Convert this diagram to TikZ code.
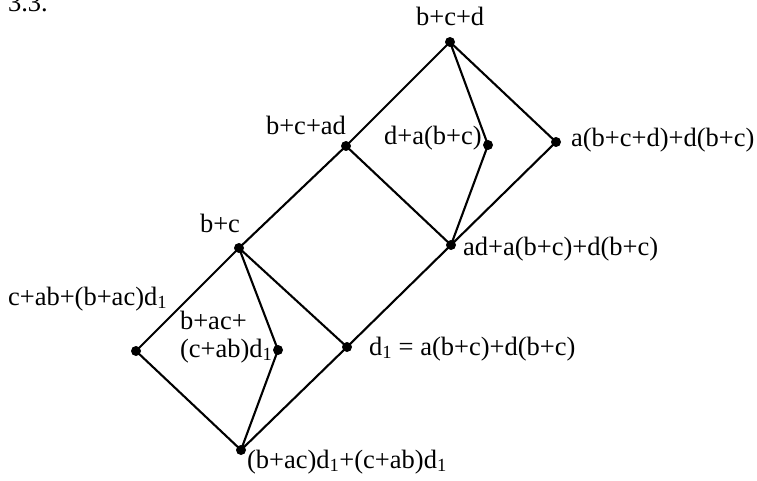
\documentclass[tikz,border=0pt]{standalone}
\usepackage{fontspec}
\setmainfont{Liberation Serif}
\begin{document}
\begin{tikzpicture}[line join = round, line cap=round,x=1pt,y=-1pt,line width=2.1pt,
	font=\fontsize{26.5}{27.7}\selectfont]
				\useasboundingbox (0,0) rectangle (757,481);
				\path
				(450,42) coordinate (T)
				(346,146) coordinate (BCAD)
				(488,145) coordinate (DA)
				(556,142) coordinate (R)
				(451,245) coordinate (M)
				(239,248) coordinate (BC)
				(136,351) coordinate (L)
				(278,350) coordinate (LA)
				(347,347) coordinate (D)
				(241,450) coordinate (B)
				;
				\draw
				(T)--(BCAD)--(M)--(R)--(T) (T)--(DA)--(M)
				(BCAD)--(BC)--(L)--(B)--(D)--(M)
				(BC)--(D) (BC)--(LA)--(B)
				;
				\node[anchor=base west,inner sep=0] (num) at (7,12) {3.3.};
				\foreach \x/\p/\t in {T/{-35,-16}/{b+c+d},BCAD/{-81,-11}/{b+c+ad},
					DA/{-105,0}/{d+a(b+c)},R/{14,5}/{a(b+c+d)+d(b+c)},
					M/{11,10}/{ad+a(b+c)+d(b+c)},BC/{-40,-16}/{b+c},
					L/{-129,-46}/{c+ab+(b+ac)d\textsubscript{1}},
					LA/{-99,7}/{b+ac+\\(c+ab)d\textsubscript{1}},
					D/{21,8}/{d\textsubscript{1} = a(b+c)+d(b+c)},
					B/{5,18}/{(b+ac)d\textsubscript{1}+(c+ab)d\textsubscript{1}}}
				\fill (\x) circle (5pt)
				++(\p) node[anchor=base west,inner sep=0,align=left] {\t};
			\end{tikzpicture}
\end{document}
